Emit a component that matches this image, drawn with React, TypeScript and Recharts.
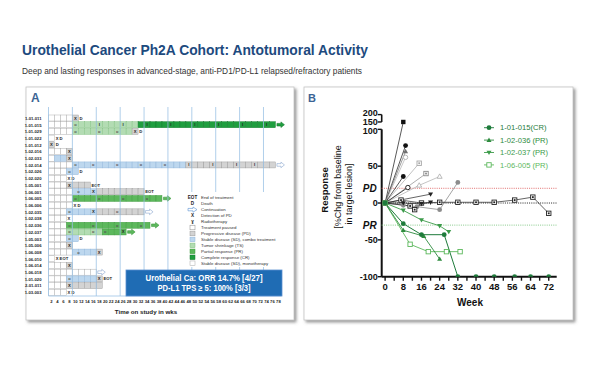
import React from 'react';
import { BarChart, Bar, XAxis, YAxis, ReferenceLine, LineChart, Line } from 'recharts';

// ---------- Panel A: swimmer plot ----------
const patientIds = ['1-01-011','1-01-015','1-01-029','1-01-022','1-01-012','1-02-016','1-02-033','1-02-014','1-02-026','1-02-020','1-05-001','1-06-001','1-06-005','1-06-006','1-02-035','1-02-038','1-02-036','1-02-037','1-05-003','1-05-006','1-06-008','1-06-010','1-06-014','1-06-018','1-01-020','2-01-011','1-03-003'];

// W = SD monotherapy, G = PD, B = SD combo, T = tumor shrinkage, P = PR, C = CR  (weeks)
const segments: [string, number][][] = [
  [['W', 8], ['G', 2]],
  [['W', 8], ['T', 22], ['C', 46]],
  [['W', 8], ['T', 20], ['G', 2]],
  [['W', 2]],
  [['G', 2]],
  [['W', 6], ['G', 2]],
  [['W', 2], ['B', 4], ['G', 2]],
  [['W', 8], ['B', 38], ['G', 30]],
  [['W', 6], ['B', 4]],
  [['W', 6]],
  [['W', 6], ['G', 8]],
  [['W', 8], ['B', 8], ['G', 16]],
  [['W', 8], ['P', 30]],
  [['W', 8]],
  [['W', 6], ['B', 10], ['G', 16]],
  [['W', 6]],
  [['W', 6], ['P', 28]],
  [['W', 6], ['T', 12], ['P', 8]],
  [['W', 6], ['B', 4]],
  [['W', 6], ['G', 2]],
  [['W', 8], ['B', 8], ['G', 2]],
  [['W', 2]],
  [['W', 6], ['G', 2]],
  [['W', 16]],
  [['W', 6], ['B', 10], ['G', 2]],
  [['W', 6], ['G', 12]],
  [['W', 6]],
];

const cellMarks: [number, string][][] = [
  [[9, 'X']],
  [[9, 'o'], [17, 'I'], [25, 'I'], [33, 'I'], [41, 'I'], [49, 'I'], [57, 'I'], [65, 'I'], [73, 'I']],
  [[9, 'o'], [17, 'o'], [23, 'o'], [29, 'X']],
  [],
  [[1, 'X']],
  [[7, 'X']],
  [[7, 'X']],
  [[9, 'o'], [15, 'o'], [23, 'o'], [31, 'o'], [39, 'o'], [47, 'I'], [55, 'I'], [63, 'I'], [69, 'I']],
  [[7, 'o']],
  [],
  [[7, 'X']],
  [[10, 'o'], [15, 'X']],
  [[9, 'o'], [17, 'o'], [25, 'o'], [33, 'o']],
  [],
  [[7, 'o'], [15, 'X'], [23, 'o']],
  [],
  [[7, 'o'], [15, 'o'], [23, 'o'], [31, 'o']],
  [[7, 'o'], [15, 'o'], [19, 'o'], [25, 'X']],
  [[7, 'o']],
  [[7, 'X']],
  [[10, 'o'], [17, 'X']],
  [],
  [[7, 'X']],
  [],
  [[7, 'o'], [17, 'X']],
  [[7, 'X']],
  [],
];

const endNotes = ['D', 'arrowC', 'D', 'X D', 'D', '', '', 'arrowO', 'D', 'X D', 'EOT', 'EOT', 'arrowP', 'X D', 'arrowO', 'X', 'arrowP', 'arrowP', 'D', '', '', 'X EOT', '', 'arrowO', 'EOT', '', 'X D'];

const weekTickPositions = [1,3,5,7,9,11,13,15,17,19,21,23,25,27,29,31,33,35,37,39,41,43,45,47,49,51,53,55,57,59,61,63,65,67,69,71,73,75,77];
const gridWeeks = [0, 8, 16, 24, 32, 40, 48, 56, 64, 72];

const statusFill: Record<string, string> = { W: '#ffffff', G: '#d3d3d3', B: '#bdd7ee', T: '#b3dcb3', P: '#5cb85c', C: '#1f9e3f' };
const statusStroke: Record<string, string> = { W: '#a8a8a8', G: '#9b9b9b', B: '#8fb4d9', T: '#80c080', P: '#3f9a3f', C: '#157a2e' };

const legendA: [string, string][] = [
  ['EOT', 'End of treatment'],
  ['D', 'Death'],
  ['arrow', 'Continuation'],
  ['X', 'Detection of PD'],
  ['ɣ', 'Radiotherapy'],
  ['paused', 'Treatment paused'],
  ['G', 'Progressive disease (PD)'],
  ['B', 'Stable disease (SD), combo treatment'],
  ['T', 'Tumor shrinkage (TS)'],
  ['P', 'Partial response (PR)'],
  ['C', 'Complete response (CR)'],
  ['W', 'Stable disease (SD), monotherapy'],
];

const swimRows = patientIds.map((id, i) => {
  const row: Record<string, string | number> = { id };
  segments[i].forEach(([code, len], k) => {
    row['s' + k] = len;
    row['c' + k] = code;
  });
  return row;
});

function makeSegShape(si: number) {
  return (p: any) => {
    const { x, y, width, height, payload, index } = p;
    const len = payload['s' + si] as number;
    if (!len || !width) return <g />;
    let start = 0;
    for (let k = 0; k < si; k++) start += (payload['s' + k] as number) || 0;
    const ppw = width / len;
    const code = payload['c' + si] as string;
    const n = Math.round(len / 2);
    const cells = [];
    for (let k = 0; k < n; k++) {
      cells.push(
        <rect key={'c' + k} x={x + k * 2 * ppw} y={y} width={2 * ppw} height={height}
          fill={statusFill[code]} stroke={statusStroke[code]} strokeWidth={0.45} />
      );
    }
    const row = index as number;
    const marks = cellMarks[row].filter(([w]) => w >= start && w < start + len);
    const markEls = marks.map(([w, ch], k) => (
      <text key={'m' + k} x={x + (w - start) * ppw} y={y + height / 2 + 1.5} textAnchor="middle"
        fontSize={ch === 'o' ? 4 : 4.2} fontWeight={700} fill={ch === 'o' ? '#555' : '#222'}>{ch}</text>
    ));
    const isLast = payload['s' + (si + 1)] == null;
    let endEl: React.ReactNode = null;
    if (isLast) {
      const note = endNotes[row];
      const xe = x + width;
      const yc = y + height / 2;
      if (note.startsWith('arrow')) {
        const f = note === 'arrowC' ? '#1f9e3f' : note === 'arrowP' ? '#5cb85c' : '#ffffff';
        const s = note === 'arrowO' ? '#8aa6cf' : note === 'arrowC' ? '#157a2e' : '#3f9a3f';
        const pts = [
          [xe + 1.5, yc - 1.3], [xe + 5.5, yc - 1.3], [xe + 5.5, yc - 2.8], [xe + 9, yc],
          [xe + 5.5, yc + 2.8], [xe + 5.5, yc + 1.3], [xe + 1.5, yc + 1.3],
        ].map((q) => q.join(',')).join(' ');
        endEl = <polygon points={pts} fill={f} stroke={s} strokeWidth={0.6} />;
      } else if (note) {
        endEl = <text x={xe + 1.2} y={yc + 1.5} fontSize={4.2} fontWeight={700} fill="#222">{note}</text>;
      }
    }
    return <g>{cells}{markEls}{endEl}</g>;
  };
}

// ---------- Panel B: spider plot ----------
const weekTicksB = [0, 4, 8, 12, 16, 20, 24, 28, 32, 36, 40, 44, 48, 52, 56, 60, 64, 68, 72];
const responseTicks = [-100, -50, 0, 50, 100, 110, 120];
const responseTickLabels: Record<string, string> = { '-100': '-100', '-50': '-50', '0': '0', '50': '50', '100': '100', '110': '150', '120': '200' };

// responders  [week, % change]
const pt101015: [number, number][] = [[0, 0], [8, -28], [16, -43], [26, -43], [32, -100], [40, -100], [48, -100], [57, -100], [64, -100], [72, -100]];
const pt102036: [number, number][] = [[0, 0], [8, -37], [17, -45], [24, -76]];
const pt102037: [number, number][] = [[0, 0], [8, -10], [16, -23], [24, -31], [28, -39]];
const pt106005: [number, number][] = [[0, 0], [11, -56], [19, -66], [27, -66], [33, -66]];
// non-responders
const ptG1: [number, number][] = [[0, 0], [8, 150]];
const ptG2: [number, number][] = [[0, 0], [9, 78]];
const ptG3: [number, number][] = [[0, 0], [9, 70]];
const ptG4: [number, number][] = [[0, 0], [9, 62]];
const ptG5: [number, number][] = [[0, 0], [15, 54]];
const ptG6: [number, number][] = [[0, 0], [18, 40]];
const ptG7: [number, number][] = [[0, 0], [8, 36]];
const ptG8: [number, number][] = [[0, 0], [15, 24], [24, 36]];
const ptG9: [number, number][] = [[0, 0], [10, 21]];
const ptG10: [number, number][] = [[0, 0], [20, 12]];
const ptG11: [number, number][] = [[0, 0], [8, -3], [14, -5], [24, -9], [32, 28]];
const ptG12: [number, number][] = [[0, 0], [11, -4], [13, -9]];
const ptG13: [number, number][] = [[0, 0], [7, 4], [16, 0], [24, 1], [32, 1], [40, 1], [48, 1], [57, 4], [65, 8], [72, -14]];
const ptG14: [number, number][] = [[0, 0], [8, 0], [16, -1], [20, 1]];

// axis break: values above 100 are compressed
const brk = (v: number) => (v > 100 ? 100 + (v - 100) * 0.2 : v);
const toRows = (pts: [number, number][]) => pts.map(([w, v]) => ({ w, v: brk(v) }));

type Kind = 'sq' | 'sqo' | 'sqd' | 'ci' | 'cio' | 'tri' | 'trio' | 'dtri';
const spiderStyles: { pts: [number, number][]; color: string; kind: Kind; w: number }[] = [
  { pts: ptG1, color: '#111111', kind: 'sq', w: 0.7 },
  { pts: ptG2, color: '#111111', kind: 'ci', w: 0.7 },
  { pts: ptG3, color: '#707070', kind: 'tri', w: 0.7 },
  { pts: ptG4, color: '#b0b0b0', kind: 'cio', w: 0.7 },
  { pts: ptG5, color: '#a8a8a8', kind: 'sqd', w: 0.7 },
  { pts: ptG6, color: '#8a8a8a', kind: 'sqd', w: 0.7 },
  { pts: ptG7, color: '#111111', kind: 'ci', w: 0.7 },
  { pts: ptG8, color: '#aaaaaa', kind: 'trio', w: 0.7 },
  { pts: ptG9, color: '#111111', kind: 'cio', w: 0.7 },
  { pts: ptG10, color: '#222222', kind: 'dtri', w: 0.7 },
  { pts: ptG11, color: '#8c8c8c', kind: 'ci', w: 0.8 },
  { pts: ptG12, color: '#222222', kind: 'sqd', w: 0.7 },
  { pts: ptG13, color: '#222222', kind: 'sqd', w: 0.7 },
  { pts: ptG14, color: '#222222', kind: 'dtri', w: 0.7 },
  { pts: pt106005, color: '#5cb85c', kind: 'sqo', w: 0.9 },
  { pts: pt102037, color: '#3c9b4a', kind: 'dtri', w: 0.9 },
  { pts: pt102036, color: '#2e8b3e', kind: 'tri', w: 0.9 },
  { pts: pt101015, color: '#1e7b3b', kind: 'ci', w: 1 },
];

const legendB: { label: string; color: string; kind: Kind }[] = [
  { label: '1-01-015(CR)', color: '#1e7b3b', kind: 'ci' },
  { label: '1-02-036 (PR)', color: '#2e8b3e', kind: 'tri' },
  { label: '1-02-037 (PR)', color: '#3c9b4a', kind: 'dtri' },
  { label: '1-06-005 (PR)', color: '#5cb85c', kind: 'sqo' },
];

function Marker({ cx, cy, kind, color }: { cx: number; cy: number; kind: Kind; color: string }) {
  const s = 2.2;
  switch (kind) {
    case 'sq':
      return <rect x={cx - s} y={cy - s} width={2 * s} height={2 * s} fill={color} />;
    case 'sqo':
      return <rect x={cx - s} y={cy - s} width={2 * s} height={2 * s} fill="#fff" stroke={color} strokeWidth={0.9} />;
    case 'sqd':
      return (
        <g>
          <rect x={cx - s} y={cy - s} width={2 * s} height={2 * s} fill="#fff" stroke={color} strokeWidth={0.9} />
          <rect x={cx - 0.9} y={cy - 0.9} width={1.8} height={1.8} fill={color} />
        </g>
      );
    case 'ci':
      return <circle cx={cx} cy={cy} r={2.4} fill={color} />;
    case 'cio':
      return <circle cx={cx} cy={cy} r={2.2} fill="#fff" stroke={color} strokeWidth={0.9} />;
    case 'tri':
      return <polygon points={`${cx},${cy - 2.6} ${cx + 2.5},${cy + 1.8} ${cx - 2.5},${cy + 1.8}`} fill={color} />;
    case 'trio':
      return <polygon points={`${cx},${cy - 2.6} ${cx + 2.5},${cy + 1.8} ${cx - 2.5},${cy + 1.8}`} fill="#fff" stroke={color} strokeWidth={0.8} />;
    case 'dtri':
      return <polygon points={`${cx},${cy + 2.6} ${cx + 2.5},${cy - 1.8} ${cx - 2.5},${cy - 1.8}`} fill={color} />;
  }
  return <g />;
}

// y tick: compressed labels near the axis break get a tiny nudge apart
function ResponseTick(p: any) {
  const { x, y, payload } = p;
  const v = payload.value as number;
  const nudge = v === 120 ? -2 : v === 110 ? -0.5 : v === 100 ? 1.5 : 0;
  return (
    <text x={x} y={y + nudge} dy="0.35em" textAnchor="end" fontSize={9} fontWeight={700} fill="#111">
      {responseTickLabels[String(v)]}
    </text>
  );
}

const FONT = '"Liberation Sans", Arial, sans-serif';

export default function App() {
  return (
    <div style={{ position: 'absolute', left: 0, top: 0, width: 600, height: 365, background: '#fff', fontFamily: FONT, overflow: 'hidden' }}>
      {/* background: title + panel frames */}
      <svg width={600} height={365} style={{ position: 'absolute', left: 0, top: 0 }}>
        <defs>
          <filter id="sh" x="-5%" y="-5%" width="115%" height="115%">
            <feDropShadow dx="2" dy="2" stdDeviation="1.4" floodColor="#7a7a7a" floodOpacity="0.8" />
          </filter>
        </defs>
        <text x={22} y={55} fontSize={15.5} fontWeight={700} fill="#1d4a7e" textLength={346} lengthAdjust="spacingAndGlyphs">
          Urothelial Cancer Ph2A Cohort: Antotumoral Activity
        </text>
        <text x={22} y={74} fontSize={9} fill="#333" textLength={340} lengthAdjust="spacingAndGlyphs">
          Deep and lasting responses in advanced-stage, anti-PD1/PD-L1 relapsed/refractory patients
        </text>
        <rect x={26} y={87} width={268} height={233} fill="#fff" stroke="#c4c4c4" strokeWidth={0.8} filter="url(#sh)" />
        <rect x={304} y={87} width={269} height={233} fill="#fff" stroke="#c4c4c4" strokeWidth={0.8} filter="url(#sh)" />
        <text x={31} y={102} fontSize={12} fontWeight={700} fill="#3b6494">A</text>
        <text x={308} y={102} fontSize={11} fontWeight={700} fill="#3b6494">B</text>
      </svg>

      {/* Panel A chart */}
      <div style={{ position: 'absolute', left: 0, top: 0 }}>
        <BarChart width={300} height={365} data={swimRows} layout="vertical" barSize={6}
          margin={{ top: 107, right: 18.6, bottom: 55, left: 27.5 }}>
          <XAxis type="number" domain={[0, 78]} ticks={weekTickPositions} tickFormatter={(v: number) => String(v + 1)}
            interval={0} tickLine={false} tickSize={3} tickMargin={1.5} height={14}
            axisLine={{ stroke: '#9dc3e6', strokeWidth: 0.8 }} tick={{ fontSize: 4.2, fill: '#222', fontWeight: 700 }} />
          <YAxis type="category" dataKey="id" width={21} interval={0} tickLine={false} axisLine={false}
            padding={{ top: 8, bottom: 0 }} tickMargin={1}
            tick={{ fontSize: 4.2, fill: '#222', fontWeight: 700 }} />
          {gridWeeks.map((w) => (
            <ReferenceLine key={w} x={w} stroke="#9dc3e6" strokeWidth={0.8} />
          ))}
          {[0, 1, 2].map((si) => (
            <Bar key={si} dataKey={'s' + si} stackId="a" isAnimationActive={false} shape={makeSegShape(si)} />
          ))}
        </BarChart>
      </div>

      {/* Panel B chart */}
      <div style={{ position: 'absolute', left: 300, top: 0 }}>
        <LineChart width={300} height={365} margin={{ top: 114.6, right: 43.3, bottom: 68.3, left: 51.7 }}>
          <XAxis type="number" dataKey="w" domain={[-1.5, 75.5]} ticks={weekTicksB} interval={0}
            tickFormatter={(v: number) => (v % 8 === 0 ? String(v) : '')} height={20}
            axisLine={{ stroke: '#111', strokeWidth: 2 }} tickLine={{ stroke: '#111', strokeWidth: 1.4 }}
            tickSize={4} tickMargin={3} tick={{ fontSize: 9.5, fill: '#111', fontWeight: 700 }} allowDataOverflow />
          <YAxis type="number" domain={[-100, 120]} ticks={responseTicks} interval={0} width={30}
            axisLine={false} tickLine={{ stroke: '#111', strokeWidth: 1.4 }} tickSize={4} tickMargin={0}
            tick={<ResponseTick />} allowDataOverflow />
          <ReferenceLine segment={[{ x: -1.5, y: -100 }, { x: -1.5, y: 100 }]} stroke="#111" strokeWidth={2} />
          <ReferenceLine segment={[{ x: -1.5, y: 110 }, { x: -1.5, y: 120 }]} stroke="#111" strokeWidth={1.6} />
          <ReferenceLine y={20} stroke="#e06c6c" strokeWidth={1} strokeDasharray="1 1.2"
            label={{ value: 'PD', position: 'left', fill: '#111', fontSize: 10, fontWeight: 700, fontStyle: 'italic' }} />
          <ReferenceLine y={-30} stroke="#86c98a" strokeWidth={1} strokeDasharray="1 1.2"
            label={{ value: 'PR', position: 'left', fill: '#111', fontSize: 10, fontWeight: 700, fontStyle: 'italic' }} />
          <ReferenceLine y={0} stroke="#222" strokeWidth={1} strokeDasharray="1 1.2" />
          {spiderStyles.map((s, i) => (
            <Line key={i} data={toRows(s.pts)} dataKey="v" type="linear" stroke={s.color} strokeWidth={s.w}
              isAnimationActive={false}
              dot={(p: any) => <Marker key={p.index} cx={p.cx} cy={p.cy} kind={s.kind} color={s.color} />} />
          ))}
        </LineChart>
      </div>

      {/* overlays: legends, boxes, axis titles */}
      <svg width={600} height={365} style={{ position: 'absolute', left: 0, top: 0, pointerEvents: 'none' }}>
        {/* panel A legend */}
        <rect x={185} y={192} width={106} height={75} fill="#fff" />
        {legendA.map(([sym, label], k) => {
          const yc = 197.7 + k * 5.96;
          let symEl: React.ReactNode;
          if (sym === 'arrow') {
            const pts = [[188, yc - 1.2], [193, yc - 1.2], [193, yc - 2.6], [197, yc], [193, yc + 2.6], [193, yc + 1.2], [188, yc + 1.2]]
              .map((q) => q.join(',')).join(' ');
            symEl = <polygon points={pts} fill="#fff" stroke="#6f9fd8" strokeWidth={0.7} />;
          } else if (sym === 'paused') {
            symEl = <rect x={190} y={yc - 2.3} width={5} height={4.6} fill="#fff" stroke="#888" strokeWidth={0.5} />;
          } else if (statusFill[sym]) {
            symEl = <rect x={190} y={yc - 2.3} width={5} height={4.6} fill={statusFill[sym]} stroke={statusStroke[sym]} strokeWidth={0.5} />;
          } else {
            symEl = <text x={192.5} y={yc + 1.6} fontSize={4.6} fontWeight={700} textAnchor="middle" fill="#222">{sym}</text>;
          }
          return (
            <g key={k}>
              {symEl}
              <text x={201} y={yc + 1.5} fontSize={4.4} fill="#333">{label}</text>
            </g>
          );
        })}
        {/* ORR box */}
        <rect x={126} y={270} width={156} height={26} fill="#1f6cb4" stroke="#5b8fd0" strokeWidth={0.8} />
        <text x={204} y={280.8} fontSize={8.4} fontWeight={700} fill="#fff" textAnchor="middle" textLength={117} lengthAdjust="spacingAndGlyphs">
          Urothelial Ca: ORR 14.7% [4/27]
        </text>
        <text x={204} y={291.3} fontSize={8.4} fontWeight={700} fill="#fff" textAnchor="middle" textLength={93} lengthAdjust="spacingAndGlyphs">
          PD-L1 TPS ≥ 5: 100% [3/3]
        </text>
        <text x={146} y={313.5} fontSize={6.2} fontWeight={700} fill="#222" textAnchor="middle">Time on study in wks</text>

        {/* panel B legend */}
        {legendB.map((it, k) => {
          const yc = 127.7 + k * 12.4;
          return (
            <g key={k}>
              <line x1={484} x2={494} y1={yc} y2={yc} stroke={it.color} strokeWidth={0.9} />
              <Marker cx={489} cy={yc} kind={it.kind} color={it.color} />
              <text x={500} y={yc + 2.7} fontSize={7.6} fill={it.color}>{it.label}</text>
            </g>
          );
        })}
        {/* panel B axis titles */}
        <text transform="translate(328,190) rotate(-90)" fontSize={9.5} fontWeight={700} fill="#111" textAnchor="middle">Response</text>
        <text transform="translate(341,187) rotate(-90)" fontSize={9} fill="#111" textAnchor="middle">[%Chg from baseline</text>
        <text transform="translate(352,194) rotate(-90)" fontSize={9} fill="#111" textAnchor="middle">in target lesion]</text>
        <text x={470} y={306} fontSize={10} fontWeight={700} fill="#111" textAnchor="middle">Week</text>
      </svg>
    </div>
  );
}
